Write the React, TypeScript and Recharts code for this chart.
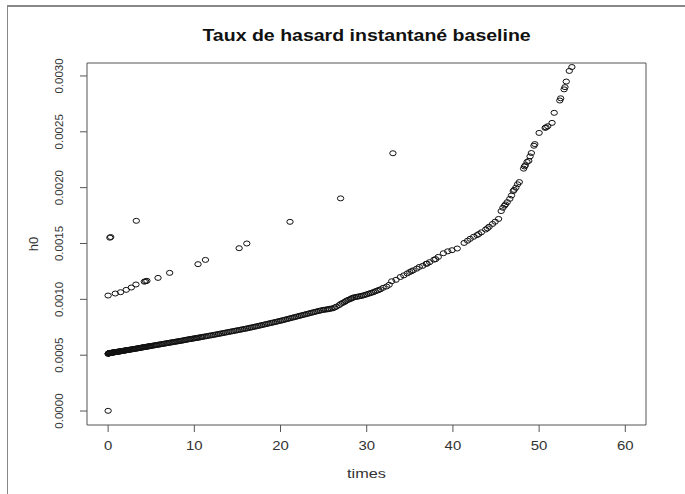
import React from 'react';
import { ScatterChart, Scatter, XAxis, YAxis, ReferenceArea } from 'recharts';

// baseline hazard estimates (times, h0)
const mainTimes = [
  0.05, 0.1, 0.15, 0.2, 0.3, 0.4, 0.5, 0.6, 0.7, 0.8, 0.9, 1.0, 1.1, 1.25, 1.4, 1.5, 1.65, 1.8, 1.95, 2.1,
  2.25, 2.4, 2.6, 2.8, 3.0, 3.2, 3.4, 3.6, 3.8, 4.0, 4.2, 4.4, 4.6, 4.8, 5.0, 5.3, 5.6, 5.9, 6.2, 6.5,
  6.8, 7.1, 7.4, 7.7, 8.0, 8.3, 8.6, 8.9, 9.2, 9.5, 9.8, 10.1, 10.4, 10.7, 11.0, 11.4, 11.8, 12.2, 12.6, 13.0,
  13.4, 13.8, 14.2, 14.6, 15.0, 15.4, 15.8, 16.2, 16.6, 17.0, 17.4, 17.8, 18.2, 18.6, 19.0, 19.4, 19.8, 20.2, 20.6, 21.0,
  21.4, 21.8, 22.2, 22.6, 23.0, 23.4, 23.8, 24.2, 24.6, 25.0, 25.4, 25.7, 26.1, 26.5, 27.0, 27.4, 27.7, 28.1, 28.4, 28.8,
  29.2, 29.6, 30.0, 30.4, 30.8, 31.2, 31.6, 31.9, 32.3, 32.6, 32.9, 33.4, 33.9, 34.3, 34.7, 35.0, 35.4, 35.8, 36.1, 36.5,
  36.9, 37.3, 37.8, 38.3, 38.9, 39.4, 39.9, 40.5, 41.3, 41.7, 42.0, 42.4, 42.8, 43.3, 43.8, 44.2, 44.6, 44.9, 45.3, 45.6,
  45.8, 46.0, 46.3, 46.6, 46.8, 47.0, 47.3, 47.5, 47.7, 48.2, 48.4, 48.6, 48.8, 48.95, 49.1, 49.4, 49.5, 50.0, 50.7, 51.0,
  51.5, 51.75, 52.4, 52.5, 52.9, 53.0, 53.15, 53.5, 53.8,
];
const mainH0 = [
  0.000515, 0.000518, 0.00052, 0.000519, 0.000521, 0.000522, 0.000523, 0.000524, 0.000526, 0.000527, 0.000528, 0.00053, 0.000531, 0.000533, 0.000534, 0.000536, 0.000538, 0.00054, 0.000542, 0.000544,
  0.000546, 0.000548, 0.00055, 0.000553, 0.000556, 0.000558, 0.000561, 0.000564, 0.000567, 0.00057, 0.000572, 0.000575, 0.000578, 0.00058, 0.000583, 0.000587, 0.000591, 0.000595, 0.000599, 0.000603,
  0.000607, 0.000611, 0.000615, 0.000619, 0.000623, 0.000627, 0.000631, 0.000635, 0.00064, 0.000644, 0.000648, 0.000652, 0.000656, 0.00066, 0.000665, 0.00067, 0.000676, 0.000681, 0.000687, 0.000693,
  0.000699, 0.000705, 0.000711, 0.000717, 0.000723, 0.000729, 0.000735, 0.000741, 0.000748, 0.000755, 0.000762, 0.000769, 0.000776, 0.000783, 0.00079, 0.000797, 0.000805, 0.000812, 0.00082, 0.000828,
  0.000836, 0.000844, 0.000852, 0.00086, 0.000868, 0.000876, 0.000884, 0.000892, 0.000899, 0.000906, 0.00091, 0.000915, 0.00092, 0.000935, 0.00096, 0.000975, 0.00099, 0.001003, 0.001015, 0.001022,
  0.001028, 0.001035, 0.001045, 0.001055, 0.001065, 0.001078, 0.00109, 0.001103, 0.001115, 0.00113, 0.001162, 0.001175, 0.0012, 0.001215, 0.001232, 0.001245, 0.00126, 0.001275, 0.00129, 0.0013,
  0.001318, 0.001333, 0.001355, 0.00138, 0.001413, 0.00143, 0.00144, 0.001455, 0.001505, 0.001525, 0.001542, 0.00156, 0.001575, 0.0016, 0.001625, 0.00165, 0.001675, 0.001695, 0.00172, 0.00179,
  0.00182, 0.00184, 0.00187, 0.0019, 0.00193, 0.00197, 0.002, 0.00203, 0.00205, 0.00217, 0.0022, 0.00223, 0.00224, 0.00228, 0.00231, 0.002375, 0.00239, 0.00249, 0.002535, 0.00255,
  0.00258, 0.00267, 0.00278, 0.0028, 0.00288, 0.0029, 0.00295, 0.003045, 0.00308,
];

// extra points where the curve is packed into a solid band
const denseTimes = [
  0.0, 0.02, 0.08, 0.12, 0.25, 0.35, 0.45, 0.55, 0.65, 0.75, 0.85, 0.95, 1.05, 1.18, 1.32, 1.45, 1.58, 1.72, 1.88, 2.02,
  2.18, 2.33, 2.5, 2.7, 2.9, 3.1, 3.3, 3.5, 3.7, 3.9, 4.1, 4.3, 4.5, 4.7, 4.9, 5.15, 5.45, 5.75, 6.05, 6.35,
  6.65, 6.95, 7.25, 7.55, 7.85, 8.15, 8.45, 8.75, 9.05, 9.35, 9.65, 9.95, 10.25, 10.55, 10.85, 11.2, 11.6, 12.0, 12.4, 12.8,
  13.2, 13.6, 14.0, 14.4, 14.8, 15.2, 15.6, 16.0, 16.4, 16.8, 17.2, 17.6, 18.0, 18.4, 18.8, 19.2, 19.6, 20.0, 20.4, 20.8,
  21.2, 21.6, 22.0, 22.4, 22.8, 23.2, 23.6, 24.0, 24.4, 24.8, 25.2, 25.55, 25.9, 26.3, 26.8, 27.2, 27.55, 27.9, 28.25, 28.6,
  29.0, 29.4, 29.8, 30.2, 30.6, 31.0, 31.4, 35.2, 37.0, 38.0, 43.0, 44.0, 46.1, 47.1, 48.3, 50.8,
];
const denseH0 = [
  0.000512, 0.000514, 0.000516, 0.000517, 0.00052, 0.000521, 0.000522, 0.000524, 0.000525, 0.000526, 0.000528, 0.000529, 0.00053, 0.000532, 0.000533, 0.000535, 0.000537, 0.000539, 0.000541, 0.000543,
  0.000545, 0.000547, 0.000549, 0.000552, 0.000554, 0.000557, 0.00056, 0.000562, 0.000565, 0.000568, 0.000571, 0.000574, 0.000576, 0.000579, 0.000582, 0.000585, 0.000589, 0.000593, 0.000597, 0.000601,
  0.000605, 0.000609, 0.000613, 0.000617, 0.000621, 0.000625, 0.000629, 0.000633, 0.000638, 0.000642, 0.000646, 0.00065, 0.000654, 0.000658, 0.000663, 0.000667, 0.000673, 0.000678, 0.000684, 0.00069,
  0.000696, 0.000702, 0.000708, 0.000714, 0.00072, 0.000726, 0.000732, 0.000738, 0.000745, 0.000751, 0.000758, 0.000765, 0.000772, 0.00078, 0.000787, 0.000794, 0.000801, 0.000808, 0.000816, 0.000824,
  0.000832, 0.00084, 0.000848, 0.000856, 0.000864, 0.000872, 0.00088, 0.000888, 0.000896, 0.000903, 0.000908, 0.000912, 0.000918, 0.000928, 0.000948, 0.000968, 0.000983, 0.000997, 0.001009, 0.001019,
  0.001025, 0.001031, 0.00104, 0.00105, 0.00106, 0.001072, 0.001084, 0.001252, 0.00132, 0.00136, 0.001585, 0.001636, 0.00185, 0.00198, 0.00219, 0.00254,
];

// the scattered upper points and the single zero
const upperTimes = [0.0, 0.0, 0.2, 0.3, 0.83, 1.45, 2.1, 2.69, 3.23, 3.27, 4.2, 4.35, 4.5, 5.79, 7.14, 10.43, 11.29, 15.2, 16.09, 21.1, 26.97, 33.04];
const upperH0 = [0.000002, 0.001034, 0.001552, 0.001558, 0.001052, 0.001064, 0.001085, 0.001106, 0.001133, 0.001703, 0.001158, 0.001162, 0.001166, 0.001192, 0.001237, 0.001315, 0.001353, 0.001458, 0.0015, 0.001694, 0.001904, 0.002308];

const xTicks = [0, 10, 20, 30, 40, 50, 60];
const yTicks = [0, 0.0005, 0.001, 0.0015, 0.002, 0.0025, 0.003];

const X_DOMAIN: [number, number] = [-2.45, 62.4];
const Y_DOMAIN: [number, number] = [-0.000125, 0.003116];

const points = [
  ...mainTimes.map((t, i) => ({ x: t, y: mainH0[i] })),
  ...denseTimes.map((t, i) => ({ x: t, y: denseH0[i] })),
  ...upperTimes.map((t, i) => ({ x: t, y: upperH0[i] })),
];

const FONT = '"Liberation Sans", Arial, sans-serif';
const INK = '#333';
const STRETCH = 1.15; // the source image is a bit wider than tall

const OpenCircle = (props: any) => (
  <ellipse cx={props.cx} cy={props.cy} rx={3.2} ry={2.5} fill="none" stroke="#111" strokeWidth={1} />
);

const XTick = (props: any) => {
  const { x, y, payload } = props;
  return (
    <g transform={`translate(${x}, ${y}) scale(${STRETCH}, 1)`}>
      <text x={0} y={0} dy="0.71em" textAnchor="middle" fontSize={13} fontFamily={FONT} fill={INK}>
        {payload.value}
      </text>
    </g>
  );
};

const YTick = (props: any) => {
  const { x, y, payload } = props;
  const tx = x - 15;
  return (
    <text x={tx} y={y} transform={`rotate(-90, ${tx}, ${y})`} textAnchor="middle" fontSize={11.5} fontFamily={FONT} fill={INK}>
      {payload.value.toFixed(4)}
    </text>
  );
};

const XLabel = (props: any) => {
  const vb = props.viewBox;
  const cx = vb.x + vb.width / 2;
  const cy = vb.y + 53;
  return (
    <g transform={`translate(${cx}, ${cy}) scale(1.25, 1)`}>
      <text x={0} y={0} textAnchor="middle" fontSize={13} fontFamily={FONT} fill={INK}>
        times
      </text>
    </g>
  );
};

const YLabel = (props: any) => {
  const vb = props.viewBox;
  const tx = vb.x + 31;
  const ty = vb.y + vb.height / 2;
  return (
    <text x={tx} y={ty} transform={`rotate(-90, ${tx}, ${ty})`} textAnchor="middle" fontSize={13} fontFamily={FONT} fill={INK}>
      h0
    </text>
  );
};

export default function App() {
  return (
    <div style={{ position: 'absolute', left: 0, top: 0, width: 685, height: 494, background: '#fff' }}>
      <div style={{ position: 'absolute', left: 7, top: 5, width: 678, height: 1.5, background: '#888' }} />
      <div style={{ position: 'absolute', left: 6.5, top: 5, width: 1.5, height: 489, background: '#888' }} />
      <div
        style={{
          position: 'absolute',
          left: 87,
          width: 559,
          top: 27,
          textAlign: 'center',
          fontFamily: FONT,
          fontWeight: 'bold',
          fontSize: 16,
          color: '#111',
        }}
      >
        <span style={{ display: 'inline-block', transform: 'scaleX(1.22)' }}>Taux de hasard instantané baseline</span>
      </div>
      <ScatterChart width={685} height={494} margin={{ top: 63, right: 39, bottom: 9, left: 7 }}>
        <XAxis
          type="number"
          dataKey="x"
          domain={X_DOMAIN}
          ticks={xTicks}
          allowDataOverflow
          height={60}
          axisLine={false}
          tickSize={7}
          tickMargin={9}
          tickLine={{ stroke: '#555' }}
          tick={<XTick />}
          label={<XLabel />}
        />
        <YAxis
          type="number"
          dataKey="y"
          domain={Y_DOMAIN}
          ticks={yTicks}
          allowDataOverflow
          width={80}
          axisLine={false}
          tickSize={7}
          tickMargin={2}
          tickLine={{ stroke: '#555' }}
          tick={<YTick />}
          label={<YLabel />}
        />
        <ReferenceArea
          x1={X_DOMAIN[0]}
          x2={X_DOMAIN[1]}
          y1={Y_DOMAIN[0]}
          y2={Y_DOMAIN[1]}
          fill="none"
          stroke="#555"
          strokeWidth={1}
          ifOverflow="visible"
        />
        <Scatter data={points} shape={<OpenCircle />} isAnimationActive={false} />
      </ScatterChart>
    </div>
  );
}
